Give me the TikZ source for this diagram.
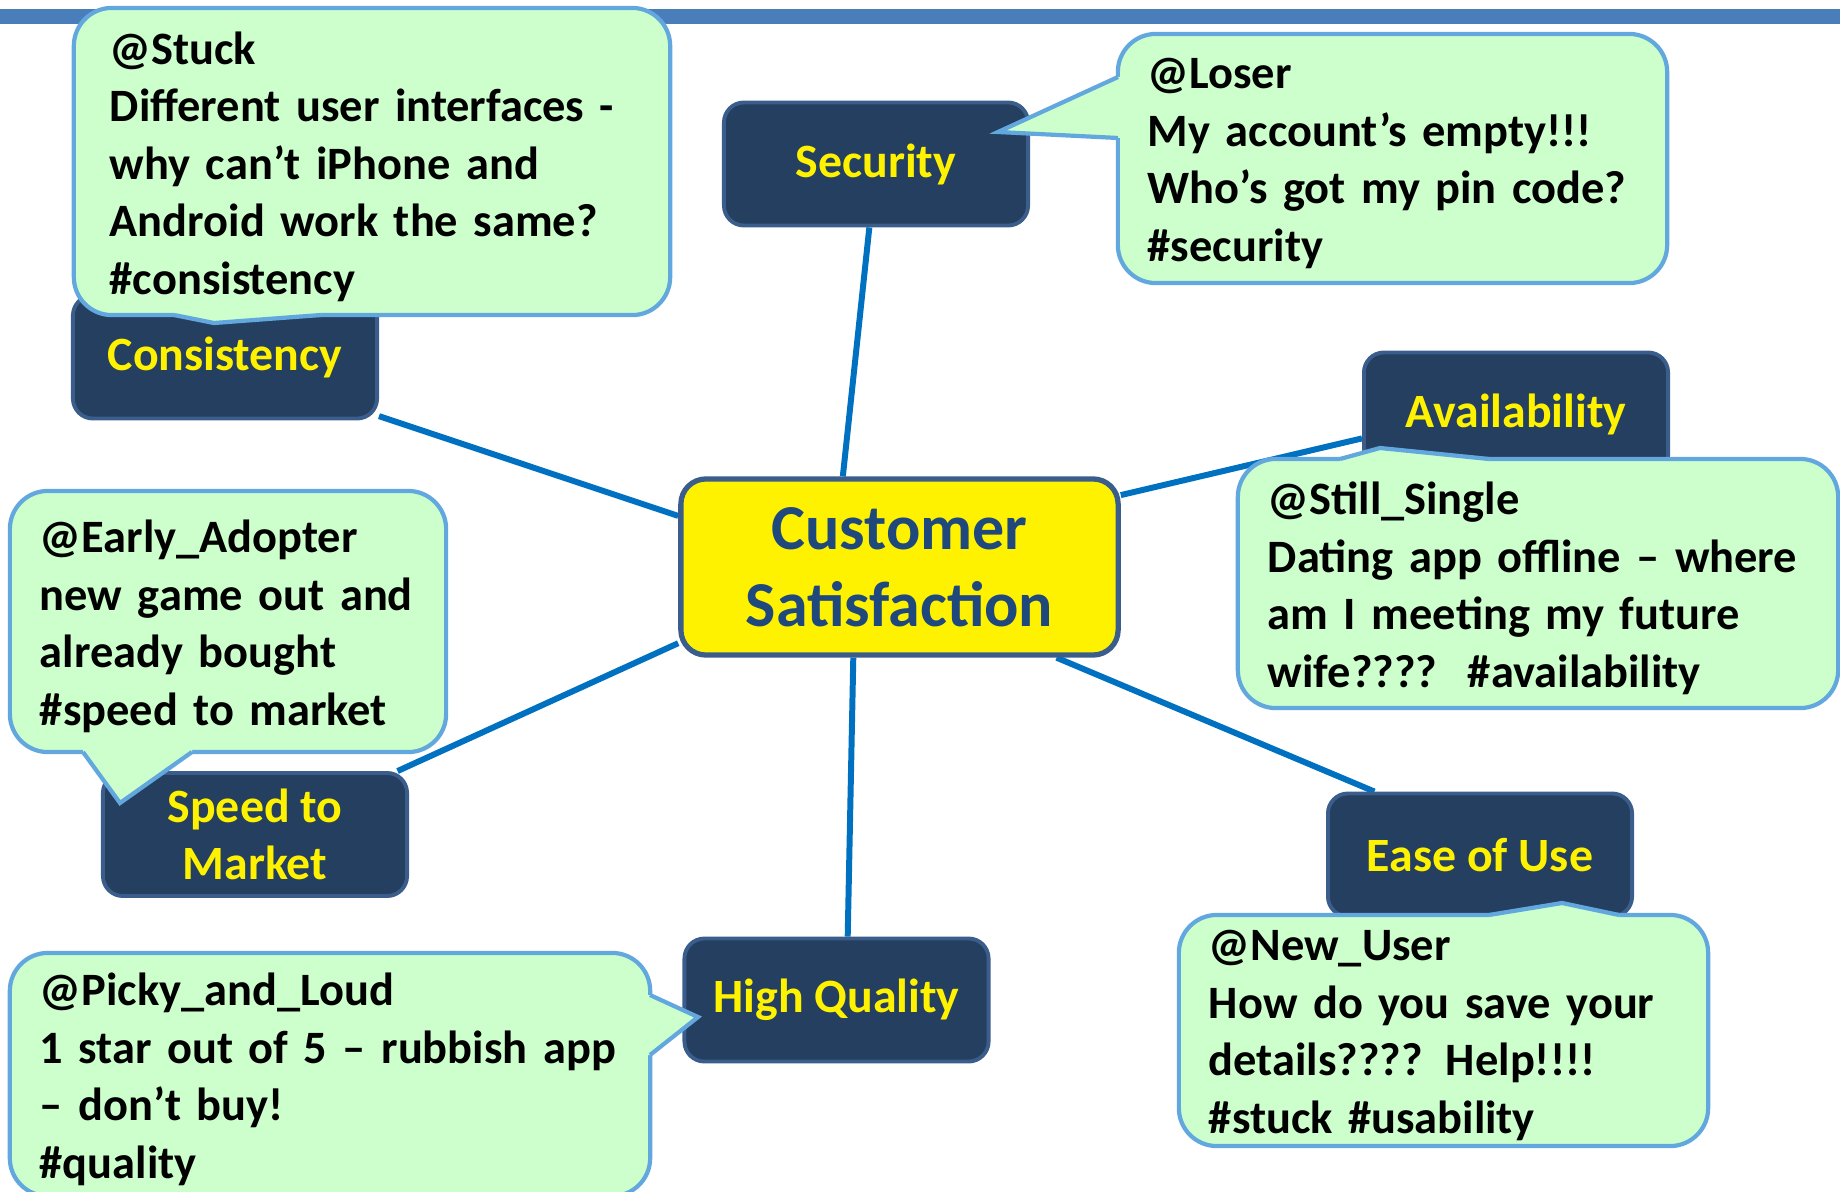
\documentclass[tikz,border=0pt]{standalone}
\usepackage{fontspec}
\setmainfont{Carlito}
\usepackage{xcolor}
\usepackage{tikz}
\usetikzlibrary{positioning,calc,backgrounds}

\definecolor{barblue}{HTML}{4A7EBB}
\definecolor{spokeblue}{HTML}{0070C0}
\definecolor{boxnavy}{HTML}{243F60}
\definecolor{boxedge}{HTML}{3A5D8C}
\definecolor{hubtext}{HTML}{1F497D}
\definecolor{tweetgreen}{HTML}{CCFFCC}
\definecolor{tweetedge}{HTML}{62A8DF}

\newcommand{\bubbletail}[4]{%
  \fill[tweetgreen] (#1) -- (#2) -- (#3) -- ++(#4) -- ($(#1)+(#4)$) -- cycle;
  \draw[tailline] (#1) -- (#2) -- (#3);}

\begin{document}
\begin{tikzpicture}[x=0.01cm,y=-0.01cm,
	spoke/.style={draw=spokeblue,line width=1.7pt},
	hub/.style={rectangle,rounded corners=0.25cm,fill=yellow,draw=boxedge,line width=1.5pt,
		text=hubtext,font=\fontsize{18.2}{22}\selectfont\bfseries,align=center,
		minimum width=4.37cm,minimum height=1.76cm,inner sep=0pt},
	topic/.style={rectangle,rounded corners=0.2cm,fill=boxnavy,draw=boxedge,line width=1.1pt,
		text=yellow,font=\fontsize{13.6}{16.35}\selectfont\bfseries,align=center,
		minimum width=3.04cm,minimum height=1.23cm,inner sep=0pt},
	tweet/.style={rectangle,rounded corners=0.38cm,fill=tweetgreen,draw=tweetedge,line width=1.2pt,
		font=\fontsize{13.2}{16.35}\selectfont\bfseries,align=left,inner xsep=0.3cm,inner ysep=0pt,
		execute at end node={\vspace{-0.1cm}}},
	tailline/.style={draw=tweetedge,line width=1.2pt,line join=miter}]
	\useasboundingbox (0,0) rectangle (1840,1191);
	\clip (0,0) rectangle (1840,1191);
	\fill[barblue] (0,9) rectangle (1840,24);
	
	\node[hub] (cs) at (899.5,567) {Customer\\Satisfaction};
	\node[topic] (sec) at (876,164) {Security};
	\node[topic] (cons) at (225,357) {Consistency};
	\node[topic] (avail) at (1516,414) {Availability};
	\node[topic] (speed) at (255,834.5) {Speed to\\Market};
	\node[topic] (qual) at (836.5,1000) {High Quality};
	\node[topic] (ease) at (1480,855) {Ease of Use};
	
	\begin{scope}[on background layer]
		\draw[spoke] (cs.122) -- (sec.264);
		\draw[spoke] (cs.167) -- (cons.339);
		\draw[spoke] (cs.18) -- (avail.189);
		\draw[spoke] (cs.199) -- (speed.24);
		\draw[spoke] (cs.243) -- (qual.80);
		\draw[spoke] (cs.330) -- (ease.149);
	\end{scope}
	
	\node[tweet,inner xsep=0.36cm,text width=5.24cm,minimum height=3.07cm] (twstuck) at (372,161.5) {@Stuck\\Different user interfaces -\\why can’t iPhone and\\Android work the same?\\\#consistency};
	\node[tweet,text width=4.89cm,minimum height=2.49cm] (twloser) at (1392.5,158.5) {@Loser\\My account’s empty!!!\\Who’s got my pin code?\\\#security};
	\node[tweet,text width=5.40cm,minimum height=2.49cm] (twsingle) at (1538,583.5) {@Still\_Single\\Dating app offline – where\\am I meeting my future\\wife????\ \ \#availability};
	\node[tweet,text width=3.76cm,minimum height=2.61cm] (twadopter) at (228,621.5) {@Early\_Adopter\\new game out and\\already bought\\\#speed to market};
	\node[tweet,text width=5.80cm,minimum height=2.43cm] (twpicky) at (330,1074.5) {@Picky\_and\_Loud\\1 star out of 5 – rubbish app\\– don’t buy!\\\#quality};
	\node[tweet,text width=4.69cm,minimum height=2.31cm] (twnewuser) at (1443.5,1030.5) {@New\_User\\How do you save your\\details???? Help!!!!\\\#stuck \#usability};
	
	\bubbletail{174,315}{214,323}{321,315}{0,-6}
	\bubbletail{1118,77}{998,132}{1118,138}{6,0}
	\bubbletail{1340,459}{1380,448}{1489,459}{0,6}
	\bubbletail{83,752}{120,803}{192,752}{0,-6}
	\bubbletail{650,995}{698,1017}{650,1055}{-6,0}
	\bubbletail{1489,915}{1562,903}{1619,915}{0,6}
\end{tikzpicture}
\end{document}
